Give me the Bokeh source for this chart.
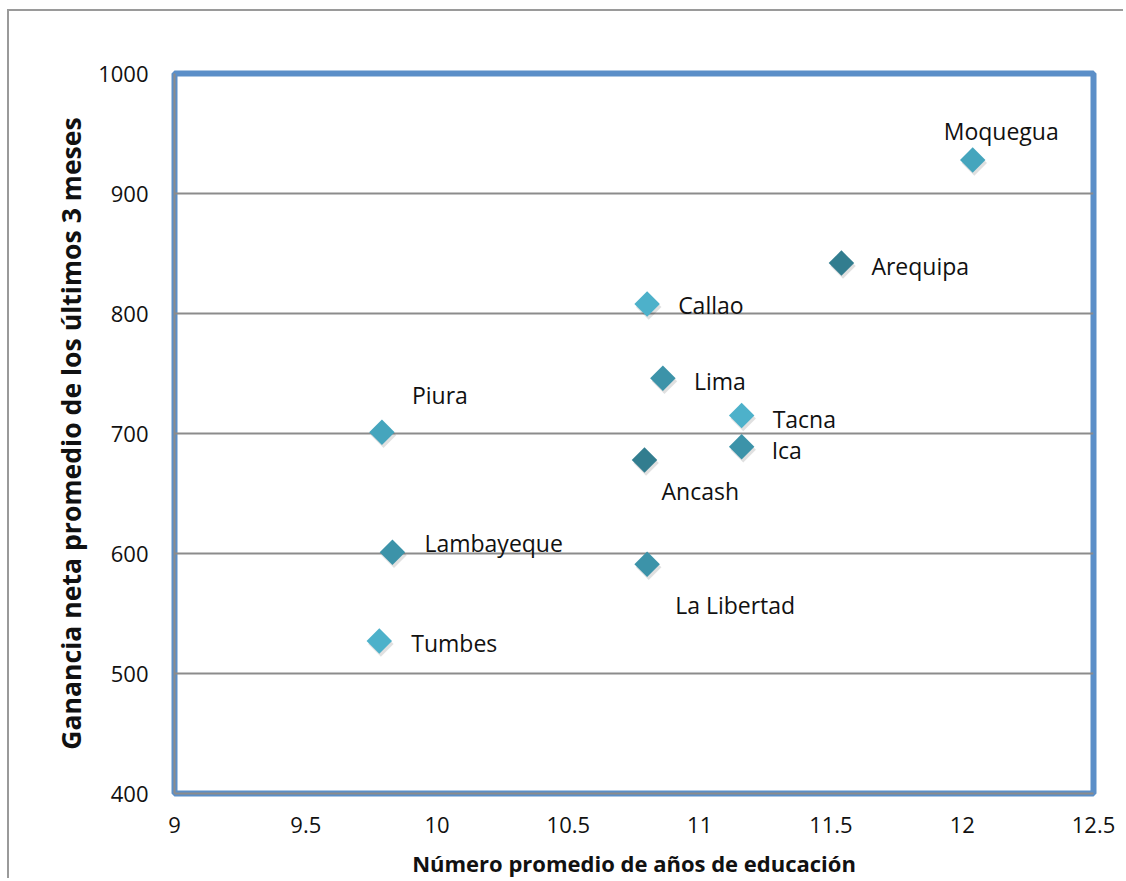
from bokeh.plotting import figure
from bokeh.models import ColumnDataSource, FixedTicker, Range1d
from bokeh.transform import dodge
from bokeh.core.properties import value
from bokeh.embed import file_html
from bokeh.resources import INLINE
import math

# ---- data ----
regions = ["Moquegua", "Arequipa", "Callao", "Lima", "Tacna", "Ica",
           "Ancash", "Piura", "Lambayeque", "La Libertad", "Tumbes"]
education_years = [12.04, 11.54, 10.80, 10.86, 11.16, 11.16,
                   10.79, 9.79, 9.83, 10.80, 9.78]
net_income = [928, 842, 808, 746, 715, 689, 678, 701, 601, 591, 527]
shade_group = ["mid_light", "dark", "light", "mid", "light", "mid",
               "dark", "mid_light", "mid", "mid", "light"]
x_ticks = [9, 9.5, 10, 10.5, 11, 11.5, 12, 12.5]
x_tick_labels = ["9", "9.5", "10", "10.5", "11", "11.5", "12", "12.5"]
y_ticks = [400, 500, 600, 700, 800, 900, 1000]
y_tick_labels = ["400", "500", "600", "700", "800", "900", "1000"]

# ---- styling (not data) ----
shade_colors = {"light": "#4DB1CA", "mid_light": "#45A5BD",
                "mid": "#3C93A9", "dark": "#327D8F"}
label_offsets = {  # screen px offsets of each label from its point
    "Moquegua": (-29, -29), "Arequipa": (30, 3), "Callao": (31, 1),
    "Lima": (31, 3), "Tacna": (31, 3), "Ica": (30, 3),
    "Ancash": (17, 31), "Piura": (30, -37), "Lambayeque": (32, -9),
    "La Libertad": (28, 41), "Tumbes": (32, 2),
}

src = ColumnDataSource(dict(
    x=education_years, y=net_income, name=regions,
    color=[shade_colors[g] for g in shade_group],
    xo=[label_offsets[r][0] for r in regions],
    yo=[label_offsets[r][1] for r in regions],
))

W, H = 1116, 869
p = figure(width=W, height=H, output_backend="svg", toolbar_location=None,
           x_range=Range1d(9, 12.5), y_range=Range1d(400, 1000),
           min_border_left=165, min_border_right=W - 1084,
           min_border_top=62, min_border_bottom=H - 786)
p.styles = {"margin-left": "7px", "margin-top": "9px",
            "border-left": "2px solid #9a9a9a", "border-top": "2px solid #9a9a9a"}
p.background_fill_color = "white"
p.border_fill_color = "white"
p.outline_line_color = "#5B8FC8"
p.outline_line_width = 6

font = "Open Sans"
# axes
p.xaxis.ticker = FixedTicker(ticks=x_ticks)
p.xaxis.major_label_overrides = dict(zip(x_ticks, x_tick_labels))
p.yaxis.ticker = FixedTicker(ticks=y_ticks)
p.yaxis.major_label_overrides = dict(zip(y_ticks, y_tick_labels))
for ax in (p.xaxis[0], p.yaxis[0]):
    ax.axis_line_color = "#8c8c8c"
    ax.axis_line_width = 2
    ax.major_tick_line_color = None
    ax.minor_tick_line_color = None
    ax.major_label_text_font = font
    ax.major_label_text_font_size = "22px"
    ax.major_label_text_color = "#111111"
    ax.axis_label_text_font = font
    ax.axis_label_text_font_style = "bold"
    ax.axis_label_text_color = "#111111"
p.yaxis.major_label_standoff = 20
p.xaxis.major_label_standoff = 17
p.yaxis.axis_label = "Ganancia neta promedio de los últimos 3 meses"
p.yaxis.axis_label_text_font_size = "26.6px"
p.yaxis.axis_label_standoff = 6
p.xaxis.axis_label = "Número promedio de años de educación"
p.xaxis.axis_label_text_font_size = "22px"
p.xaxis.axis_label_standoff = 12

# grid
p.xgrid.grid_line_color = None
p.ygrid.ticker = FixedTicker(ticks=y_ticks[1:-1])
p.ygrid.grid_line_color = "#8c8c8c"
p.ygrid.grid_line_width = 2

# soft shadow under markers
p.scatter(x=dodge("x", 0.006, range=p.x_range), y=dodge("y", -2.5, range=p.y_range),
          source=src, marker="square", size=18, angle=math.pi / 4,
          fill_color="#000000", fill_alpha=0.12, line_color=None)
# markers
p.scatter(x="x", y="y", source=src, marker="square", size=18, angle=math.pi / 4,
          fill_color="color", line_color=None)
# labels
p.text(x="x", y="y", text="name", source=src, x_offset="xo", y_offset="yo",
       text_font=value(font), text_font_size="23px", text_color="#111111",
       text_align="left", text_baseline="middle")

open("out.html", "w").write(file_html(p, INLINE))
